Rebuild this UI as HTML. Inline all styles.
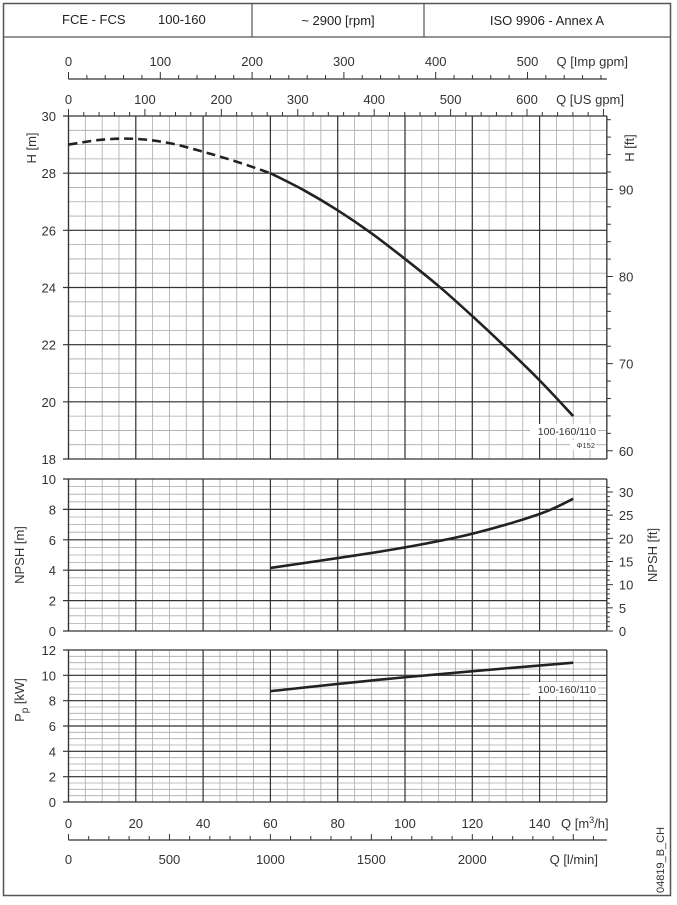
<!DOCTYPE html>
<html><head><meta charset="utf-8"><style>
body{margin:0;background:#fff;}
svg{display:block;font-family:"Liberation Sans",sans-serif;}
</style></head><body>
<svg id="s" width="677" height="905" viewBox="0 0 677 905" xmlns="http://www.w3.org/2000/svg">
<rect x="3.5" y="3.5" width="667" height="892" fill="#fff" stroke="#555" stroke-width="1.5"/>
<line x1="3" y1="37" x2="670" y2="37" stroke="#555" stroke-width="1.2"/>
<line x1="252" y1="3" x2="252" y2="37" stroke="#555" stroke-width="1.2"/>
<line x1="424" y1="3" x2="424" y2="37" stroke="#555" stroke-width="1.2"/>
<g font-size="13" fill="#222">
<text x="62" y="24">FCE - FCS</text><text x="158" y="24">100-160</text>
<text x="338" y="25" text-anchor="middle">~ 2900 [rpm]</text>
<text x="547" y="25" text-anchor="middle">ISO 9906 - Annex A</text>
</g>
<g id="g"></g>
</svg>
<script>
const g=document.getElementById('g');let h='';
const X=q=>68.5+q*3.365;
function L(x1,y1,x2,y2,c,w,extra){h+=`<line x1="${x1}" y1="${y1}" x2="${x2}" y2="${y2}" stroke="${c}" stroke-width="${w}" ${extra||''}/>`;}
function T(x,y,t,o){h+=`<text x="${x}" y="${y}" ${o||''}>${t}</text>`;}
const R=X(160);
function panel(top,bot,max,minorStep){
  const Y=v=>bot-(v/max)*(bot-top);
  for(let v=0;v<=max+1e-9;v+=minorStep){L(68.5,Y(v),R,Y(v),'#aaa',0.8);}
  for(let q=0;q<=160;q+=5)L(X(q),top,X(q),bot,'#aaa',0.8);
  for(let v=0;v<=max;v+=2){L(63,Y(v),R,Y(v),'#333',1.2);T(56,Y(v)+5,v,'font-size="13" fill="#333" text-anchor="end"');}
  for(let q=0;q<=160;q+=20)L(X(q),top,X(q),bot,'#333',1.2);
  L(68.5,top,68.5,bot,'#333',1.2);L(R,top,R,bot,'#333',1.2);
  return Y;
}
const HT=116,HB=459;
const YH=v=>HB-(v-18)/12*(HB-HT);
for(let v=18;v<=30;v+=0.5)L(68.5,YH(v),R,YH(v),'#aaa',0.8);
for(let q=0;q<=160;q+=5)L(X(q),HT,X(q),HB,'#aaa',0.8);
for(let v=18;v<=30;v+=2){L(63,YH(v),R,YH(v),'#333',1.2);T(56,YH(v)+5,v,'font-size="13" fill="#333" text-anchor="end"');}
for(let q=0;q<=160;q+=20)L(X(q),HT,X(q),HB,'#333',1.2);
L(68.5,HT,68.5,HB,'#333',1.2);L(R,HT,R,HB,'#333',1.2);
for(let f=60;f<=98;f+=2){const y=YH(f/3.2808);if(y<HT||y>HB)continue;L(R,y,R+(f%10==0?6:4),y,'#333',1);if(f%10==0)T(R+12,y+5,f,'font-size="13" fill="#333"');}
T(0,0,'H [m]','font-size="13" fill="#333" transform="translate(36,148) rotate(-90)" text-anchor="middle"');
T(0,0,'H [ft]','font-size="13" fill="#333" transform="translate(634,148) rotate(-90)" text-anchor="middle"');
const YN=panel(479,631,10,0.5);
for(let f=0;f<=31;f++){const y=YN(f/3.2808);if(y<479)continue;L(R,y,R+(f%5==0?6:3),y,'#333',1);if(f%5==0)T(R+12,y+5,f,'font-size="13" fill="#333"');}
T(0,0,'NPSH [m]','font-size="13" fill="#333" transform="translate(24,555) rotate(-90)" text-anchor="middle"');
T(0,0,'NPSH [ft]','font-size="13" fill="#333" transform="translate(657,555) rotate(-90)" text-anchor="middle"');
const YP=panel(650,802,12,0.5);
h+=`<text font-size="13" fill="#333" transform="translate(24,700) rotate(-90)" text-anchor="middle">P<tspan dy="4" font-size="10">p</tspan><tspan dy="-4"> [kW]</tspan></text>`;
for(let q=0;q<=140;q+=20)T(X(q),828,q,'font-size="13" fill="#333" text-anchor="middle"');
h+=`<text x="561" y="828" font-size="13" fill="#333">Q [m<tspan dy="-5" font-size="9">3</tspan><tspan dy="5">/h]</tspan></text>`;
L(68.5,840,R,840,'#333',1.2);
for(let l=0;l*0.06<=160;l+=100){const x=X(l*0.06);L(x,840,x,l%500==0?834:836,'#333',1);if(l%500==0&&l<=2000)T(x,864,l,'font-size="13" fill="#333" text-anchor="middle"');}
T(598,864,'Q [l/min]','font-size="13" fill="#333" text-anchor="end"');
T(0,0,'04819_B_CH','font-size="11" fill="#333" transform="translate(664,893) rotate(-90)"');
// Imp gpm axis
L(68.5,79,R,79,'#333',1.2);
for(let i=0;i*0.2728<=160;i+=20){const x=X(i*0.2728);L(x,79,x,i%100==0?72:75,'#333',1);if(i%100==0)T(x,66,i,'font-size="13" fill="#333" text-anchor="middle"');}
T(628,66,'Q [Imp gpm]','font-size="13" fill="#333" text-anchor="end"');
for(let i=0;i*0.2271<=160;i+=20){const x=X(i*0.2271);L(x,HT,x,i%100==0?109:112,'#333',1);if(i%100==0&&i<=600)T(x,104,i,'font-size="13" fill="#333" text-anchor="middle"');}
T(624,104,'Q [US gpm]','font-size="13" fill="#333" text-anchor="end"');
function spline(pts,Y){let d='';const p=pts.map(a=>[X(a[0]),Y(a[1])]);d='M'+p[0];for(let i=0;i<p.length-1;i++){const p0=p[i-1]||p[i],p1=p[i],p2=p[i+1],p3=p[i+2]||p2;const c1=[p1[0]+(p2[0]-p0[0])/6,p1[1]+(p2[1]-p0[1])/6],c2=[p2[0]-(p3[0]-p1[0])/6,p2[1]-(p3[1]-p1[1])/6];d+=` C${c1} ${c2} ${p2}`;}return d;}
h+=`<path d="${spline([[0,29],[10,29.17],[20,29.2],[30,29.05],[40,28.75],[50,28.4],[60,28]],YH)}" fill="none" stroke="#222" stroke-width="2.6" stroke-dasharray="9,5"/>`;
h+=`<path d="${spline([[60,28],[70,27.4],[80,26.7],[90,25.9],[100,25.0],[110,24.05],[120,23.0],[130,21.9],[140,20.75],[150,19.5]],YH)}" fill="none" stroke="#222" stroke-width="2.6"/>`;
h+=`<path d="${spline([[60,4.15],[80,4.8],[100,5.5],[120,6.4],[140,7.7],[150,8.7]],YN)}" fill="none" stroke="#222" stroke-width="2.6"/>`;
h+=`<path d="${spline([[60,8.75],[100,9.85],[150,11.0]],YP)}" fill="none" stroke="#222" stroke-width="2.6"/>`;
h+=`<rect x="530" y="424" width="68" height="14" fill="#fff"/><rect x="570" y="440" width="26" height="10" fill="#fff"/>`;
T(596,435,'100-160/110','font-size="10.5" fill="#333" text-anchor="end"');
T(595,448,'Φ152','font-size="7.5" fill="#333" text-anchor="end"');
h+=`<rect x="530" y="682" width="68" height="14" fill="#fff"/>`;
T(596,693,'100-160/110','font-size="10.5" fill="#333" text-anchor="end"');
g.innerHTML=h;
</script>
</body></html>
